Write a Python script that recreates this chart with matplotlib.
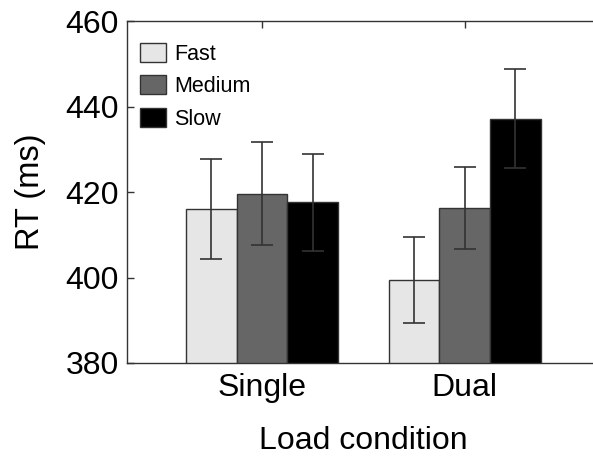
import numpy as np
import matplotlib
matplotlib.use("Agg")
import matplotlib.pyplot as plt

plt.rcParams["font.family"] = ["Liberation Sans", "DejaVu Sans"]

conditions = ["Single", "Dual"]
speeds = ["Fast", "Medium", "Slow"]
rt_mean = {
    "Fast": [416.1, 399.4],
    "Medium": [419.7, 416.3],
    "Slow": [417.6, 437.2],
}
rt_err = {
    "Fast": [11.8, 10.0],
    "Medium": [12.0, 9.6],
    "Slow": [11.3, 11.6],
}
colors = {"Fast": "#e6e6e6", "Medium": "#666666", "Slow": "#000000"}

fig = plt.figure(figsize=(5.93, 4.57), dpi=100)
ax = fig.add_axes([0.2142, 0.2057, 0.797, 0.7473])

x = np.arange(1, len(conditions) + 1)
w = 0.25
for k, sp in enumerate(speeds):
    ax.bar(x + (k - 1) * w, rt_mean[sp], width=w, color=colors[sp],
           edgecolor="#333333", linewidth=1.0, label=sp, zorder=2)
    ax.errorbar(x + (k - 1) * w, rt_mean[sp], yerr=rt_err[sp], fmt="none",
                ecolor="#333333", elinewidth=1.2, capsize=7.8, capthick=1.2, zorder=3)

ax.set_xlim(1 / 3, 8 / 3)
ax.set_ylim(380, 460)
ax.set_yticks([380, 400, 420, 440, 460])
ax.set_xticks(x)
ax.set_xticklabels(conditions)
ax.tick_params(axis="both", direction="in", length=5, width=1, labelsize=23,
               top=True, right=True, color="#333333")
ax.tick_params(axis="y", pad=6)
ax.tick_params(axis="x", pad=7)
for s in ax.spines.values():
    s.set_color("#333333")
    s.set_linewidth(1.0)

ax.set_ylabel("RT (ms)", fontsize=23.5, labelpad=14)
ax.set_xlabel("Load condition", fontsize=23, labelpad=17)

ax.legend(loc="upper left", bbox_to_anchor=(0.0, 0.975), frameon=False, fontsize=15.5,
          handlelength=1.2, handleheight=0.96, handletextpad=0.4, labelspacing=0.5,
          borderaxespad=0.2)

fig.savefig("out.png", dpi=100)
